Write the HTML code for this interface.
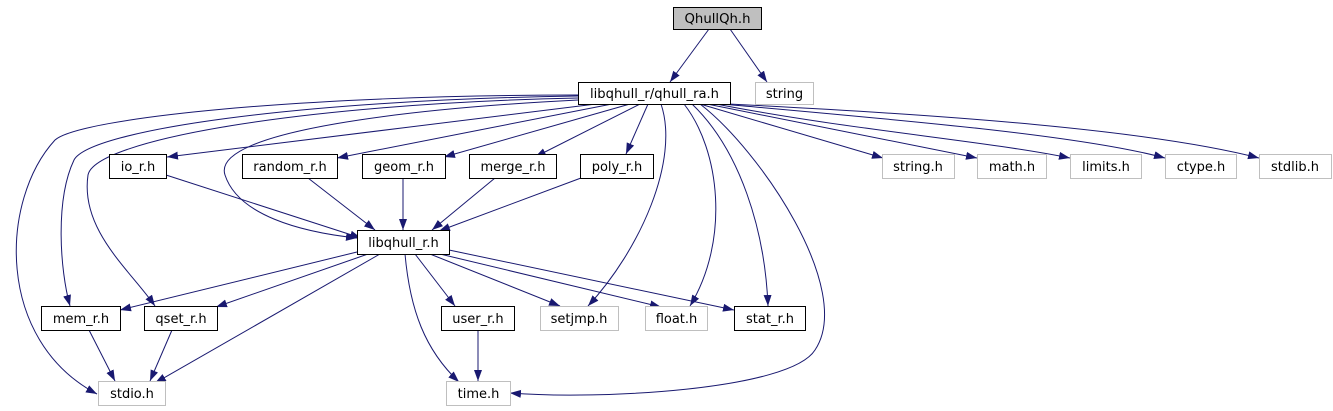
<!DOCTYPE html>
<html><head><meta charset="utf-8"><style>
html,body{margin:0;padding:0;background:#fff;}
svg{display:block;}
text{font-family:"DejaVu Sans","Liberation Sans",sans-serif;font-size:13px;fill:#000;}
</style></head><body>
<svg width="1333" height="411" viewBox="0 0 1333 411" xmlns="http://www.w3.org/2000/svg">
<defs>
<marker id="a" markerUnits="userSpaceOnUse" markerWidth="12" markerHeight="10" refX="11" refY="4" orient="auto">
<path d="M0,0 L11,4 L0,8 z" fill="#191970"/>
</marker>
</defs>
<g fill="none" stroke="#191970" stroke-width="1" marker-end="url(#a)">
<path d="M709,29 L670,82"/>
<path d="M730,29 L767,82"/>
<path d="M596,104 L167,157"/>
<path d="M612,104 L337,158"/>
<path d="M630,104 L444,157"/>
<path d="M640,104 L535,157"/>
<path d="M648,104 L626,154"/>
<path d="M700,104 L883,158"/>
<path d="M707,104 L977,158"/>
<path d="M716,104 C850,130 980,140 1070,158"/>
<path d="M722,104 C900,120 1080,135 1165,158"/>
<path d="M728,104 C950,115 1150,130 1259,158"/>
<path d="M578,100 C420,108 210,130 225,175 C238,215 300,232 357,238"/>
<path d="M578,96 C300,100 90,130 74,160 C55,200 60,270 70,306"/>
<path d="M578,98 C300,104 95,140 88,175 C80,230 130,270 155,306"/>
<path d="M578,95 C300,95 80,118 55,140 C0,200 -5,340 97,394"/>
<path d="M661,104 C680,160 640,250 588,306"/>
<path d="M684,104 C720,150 730,240 690,306"/>
<path d="M692,104 C740,150 765,230 768,306"/>
<path d="M700,104 C760,150 855,290 815,350 C790,390 600,400 510,393"/>
<path d="M357,252 L120,310"/>
<path d="M368,254 L216,307"/>
<path d="M380,254 L155,383"/>
<path d="M415,254 L455,306"/>
<path d="M430,254 L560,306"/>
<path d="M440,254 L661,307"/>
<path d="M449,250 L734,310"/>
<path d="M405,254 C410,310 425,350 459,382"/>
<path d="M166,175 L361,238"/>
<path d="M308,178 L375,230"/>
<path d="M403,178 L403,230"/>
<path d="M495,178 L432,230"/>
<path d="M581,178 L439,231"/>
<path d="M89,330 L115,381"/>
<path d="M172,330 L150,381"/>
<path d="M478,330 L478,381"/>
</g>
<g stroke-width="1">
<rect x="673.5" y="7.5" width="88" height="22" fill="#bfbfbf" stroke="#000"/>
<rect x="578.5" y="82.5" width="152" height="22" fill="#fff" stroke="#000"/>
<rect x="755.5" y="82.5" width="58" height="22" fill="#fff" stroke="#bfbfbf"/>
<rect x="109.5" y="154.5" width="57" height="24" fill="#fff" stroke="#000"/>
<rect x="242.5" y="154.5" width="95" height="24" fill="#fff" stroke="#000"/>
<rect x="362.5" y="154.5" width="83" height="24" fill="#fff" stroke="#000"/>
<rect x="469.5" y="154.5" width="87" height="24" fill="#fff" stroke="#000"/>
<rect x="580.5" y="154.5" width="73" height="24" fill="#fff" stroke="#000"/>
<rect x="882.5" y="154.5" width="72" height="24" fill="#fff" stroke="#bfbfbf"/>
<rect x="977.5" y="154.5" width="69" height="24" fill="#fff" stroke="#bfbfbf"/>
<rect x="1070.5" y="154.5" width="71" height="24" fill="#fff" stroke="#bfbfbf"/>
<rect x="1165.5" y="154.5" width="71" height="24" fill="#fff" stroke="#bfbfbf"/>
<rect x="1259.5" y="154.5" width="72" height="24" fill="#fff" stroke="#bfbfbf"/>
<rect x="357.5" y="230.5" width="92" height="24" fill="#fff" stroke="#000"/>
<rect x="41.5" y="306.5" width="79" height="24" fill="#fff" stroke="#000"/>
<rect x="144.5" y="306.5" width="73" height="24" fill="#fff" stroke="#000"/>
<rect x="441.5" y="306.5" width="73" height="24" fill="#fff" stroke="#000"/>
<rect x="540.5" y="306.5" width="78" height="24" fill="#fff" stroke="#bfbfbf"/>
<rect x="645.5" y="306.5" width="62" height="24" fill="#fff" stroke="#bfbfbf"/>
<rect x="734.5" y="306.5" width="71" height="24" fill="#fff" stroke="#000"/>
<rect x="98.5" y="381.5" width="67" height="24" fill="#fff" stroke="#bfbfbf"/>
<rect x="446.5" y="381.5" width="64" height="24" fill="#fff" stroke="#bfbfbf"/>
</g>
<g text-anchor="middle">
<text x="717.5" y="23" textLength="66" lengthAdjust="spacingAndGlyphs">QhullQh.h</text>
<text x="654.5" y="98" textLength="129" lengthAdjust="spacingAndGlyphs">libqhull_r/qhull_ra.h</text>
<text x="784.5" y="98">string</text>
<text x="138" y="171">io_r.h</text>
<text x="290" y="171">random_r.h</text>
<text x="404" y="171">geom_r.h</text>
<text x="513" y="171">merge_r.h</text>
<text x="617" y="171">poly_r.h</text>
<text x="918" y="171">string.h</text>
<text x="1012" y="171">math.h</text>
<text x="1106" y="171">limits.h</text>
<text x="1201" y="171">ctype.h</text>
<text x="1295" y="171">stdlib.h</text>
<text x="403.5" y="247">libqhull_r.h</text>
<text x="81" y="323">mem_r.h</text>
<text x="181" y="323">qset_r.h</text>
<text x="478" y="323">user_r.h</text>
<text x="579" y="323">setjmp.h</text>
<text x="676.5" y="323">float.h</text>
<text x="770" y="323">stat_r.h</text>
<text x="132" y="398">stdio.h</text>
<text x="478.5" y="398">time.h</text>
</g>
</svg>
</body></html>
